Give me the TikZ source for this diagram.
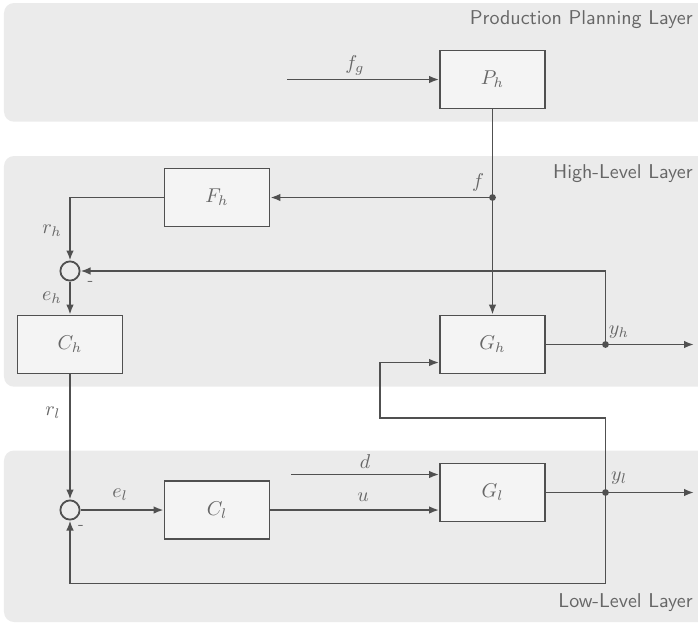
\documentclass[tikz,border=0pt]{standalone}
\usetikzlibrary{arrows.meta}
\definecolor{bandfill}{HTML}{EBEBEB}
\definecolor{boxfill}{HTML}{F4F4F4}
\definecolor{linec}{HTML}{505050}
\definecolor{textc}{HTML}{666666}
\tikzset{
  band/.style={fill=bandfill, draw=none, rounded corners=5pt},
  blockbox/.style={draw=linec, fill=boxfill, line width=0.9pt, minimum width=52.5pt, minimum height=29pt, inner sep=0pt, text=textc},
  sumnode/.style={draw=linec, circle, line width=0.9pt, minimum size=9.6pt, inner sep=0pt},
  conn/.style={draw=linec, line width=0.9pt},
  arr/.style={conn, -{Latex[length=5pt,width=3.8pt]}},
  junc/.style={circle, fill=linec, inner sep=0pt, minimum size=3.4pt},
  lbl/.style={text=textc, inner sep=0pt},
  layertitle/.style={text=textc, inner sep=0pt, anchor=east, font=\sffamily},
}
\begin{document}
\begin{tikzpicture}[x=0.5pt, y=-0.5pt]
\useasboundingbox (0,0) rectangle (698,623);
\clip (0,0) rectangle (698,623);
% layers
\path[band] (4,3) rectangle (720,121.7);
\path[band] (4,156) rectangle (720,386.7);
\path[band] (4,450.5) rectangle (720,622);
\node[layertitle] (tpp) at (693,20) {Production Planning Layer};
\node[layertitle] (thl) at (693,173.3) {High-Level Layer};
\node[layertitle] (tll) at (693,603) {Low-Level Layer};
% blocks
\node[blockbox] (Ph) at (492.5,79.5) {$P_h$};
\node[blockbox] (Fh) at (217,197.5) {$F_h$};
\node[blockbox] (Ch) at (70,344.5) {$C_h$};
\node[blockbox] (Gh) at (492.5,344.5) {$G_h$};
\node[blockbox] (Cl) at (217,510) {$C_l$};
\node[blockbox] (Gl) at (492.5,492.5) {$G_l$};
\node[sumnode] (s1) at (70,271) {};
\node[sumnode] (s2) at (70,510) {};
% junctions and free ends
\node[junc] (jf) at (492.5,197.5) {};
\node[junc] (jyh) at (605.5,344.5) {};
\node[junc] (jyl) at (605.5,492.5) {};
\coordinate (fgstart) at (287,79.5);
\coordinate (yhend) at (694,344.5);
\coordinate (ylend) at (694,492.5);
\coordinate (dstart) at (291,474.5);
\coordinate (fbA) at (605.5,418);
\coordinate (fbB) at (380,418);
\coordinate (fbC) at (380,362.5);
\coordinate (fbD) at (605.5,583.5);
\coordinate (fbE) at (70,583.5);
% connectors
\draw[arr] (fgstart) -- (Ph.west);
\draw[conn] (Ph.south) -- (jf.center);
\draw[arr] (jf.center) -- (Gh.north);
\draw[arr] (jf.center) -- (Fh.east);
\draw[arr] (Fh.west) -| (s1.north);
\draw[arr] (s1.south) -- (Ch.north);
\draw[conn] (Gh.east) -- (jyh.center);
\draw[arr] (jyh.center) -- (yhend);
\draw[arr] (jyh.center) |- (s1.east);
\draw[arr] (Ch.south) -- (s2.north);
\draw[arr] (s2.east) -- (Cl.west);
\draw[arr] (Cl.east) -- (Cl.east -| Gl.west);
\draw[arr] (dstart) -- (dstart -| Gl.west);
\draw[conn] (Gl.east) -- (jyl.center);
\draw[arr] (jyl.center) -- (ylend);
\draw[arr] (jyl.center) -- (fbA) -- (fbB) -- (fbC) -- (fbC -| Gh.west);
\draw[arr] (jyl.center) -- (fbD) -- (fbE) -- (s2.south);
% labels
\node[lbl] (lfg) at (355,65) {$f_g$};
\node[lbl] (lf) at (478,182) {$f$};
\node[lbl] (lrh) at (52,231) {$r_h$};
\node[lbl] (leh) at (52,298) {$e_h$};
\node[lbl, font=\sffamily\footnotesize] (lm1) at (90.5,283) {-};
\node[lbl] (lyh) at (619,332) {$y_h$};
\node[lbl] (lrl) at (53,413) {$r_l$};
\node[lbl] (lel) at (120,495) {$e_l$};
\node[lbl, font=\sffamily\footnotesize] (lm2) at (81,527) {-};
\node[lbl] (ld) at (365,462) {$d$};
\node[lbl] (lu) at (363,497) {$u$};
\node[lbl] (lyl) at (619,478) {$y_l$};
\end{tikzpicture}
\end{document}
